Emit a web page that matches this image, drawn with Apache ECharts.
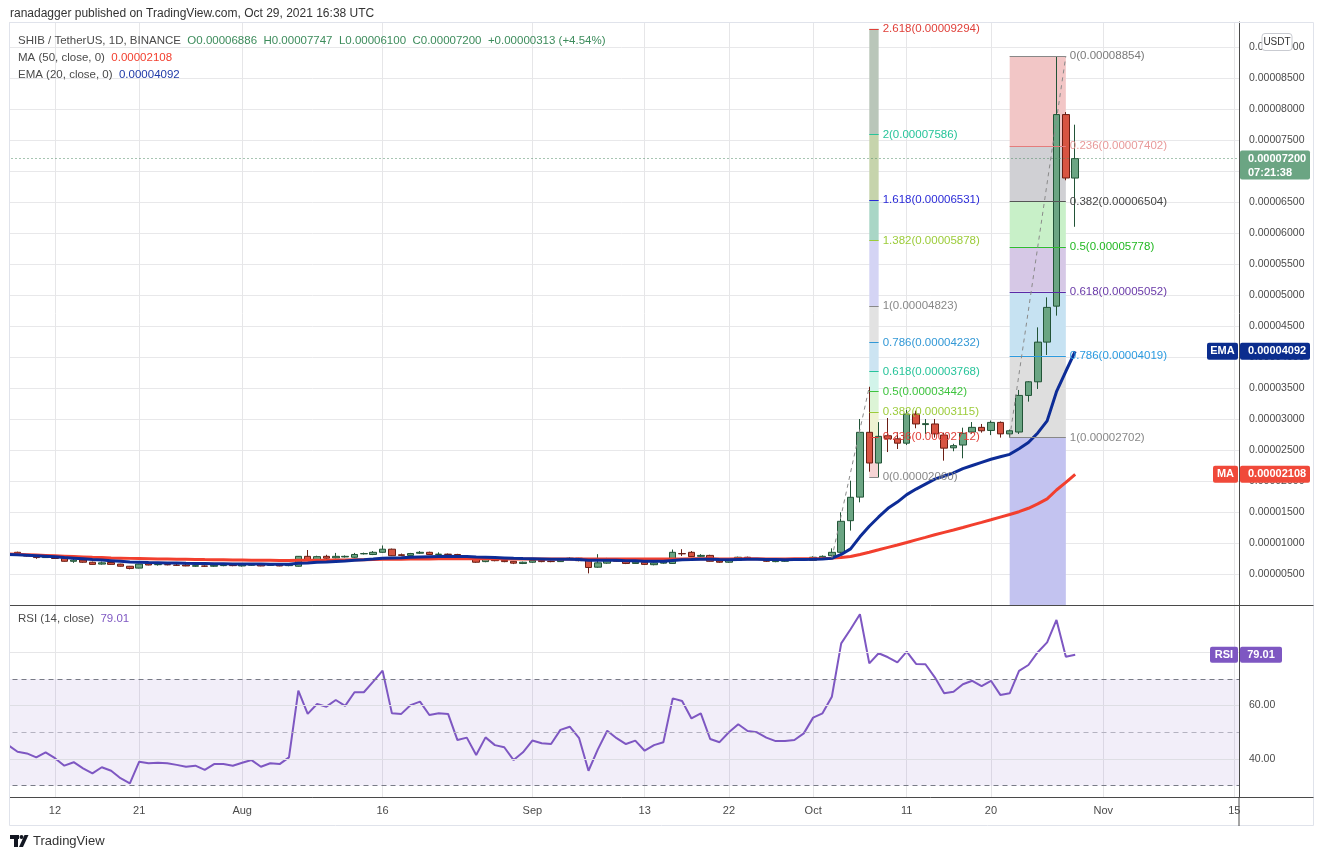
<!DOCTYPE html>
<html>
<head>
<meta charset="utf-8">
<title>SHIB / TetherUS 1D</title>
<script src="https://cdn.jsdelivr.net/npm/echarts@6/dist/echarts.min.js"></script>
<style>
html, body { margin: 0; padding: 0; background: #fff; }
#main { width: 1325px; height: 859px; }
</style>
</head>
<body>
<div id="main"></div>
<script>
var chart = echarts.init(document.getElementById('main'));

// prices are kept in units of 0.00000001 USDT
var PRICE_UNIT = 1e-8;
var FONT = 'Liberation Sans, Arial, sans-serif';

// one category per day: 2021-07-07 .. 2021-11-15
var dates = [];
(function () {
    var t = Date.UTC(2021, 6, 7);
    for (var i = 0; i < 132; i++) {
        dates.push(new Date(t + i * 86400000).toISOString().slice(0, 10));
    }
})();

var xTickLabels = {
    '2021-07-12': '12', '2021-07-21': '21', '2021-08-01': 'Aug', '2021-08-16': '16',
    '2021-09-01': 'Sep', '2021-09-13': '13', '2021-09-22': '22', '2021-10-01': 'Oct',
    '2021-10-11': '11', '2021-10-20': '20', '2021-11-01': 'Nov', '2021-11-15': '15'
};

// daily candles 2021-07-08 .. 2021-10-29
var opens = [
    850, 810, 795, 765, 790, 755, 705, 725, 690, 660,
    685, 660, 625, 595, 665, 650, 652, 645, 645, 625,
    630, 625, 635, 640, 630, 640, 655, 640, 645, 635,
    625, 785, 725, 785, 760, 775, 770, 825, 815, 850,
    900, 810, 800, 835, 850, 815, 820, 815, 755, 755,
    700, 755, 720, 705, 670, 690, 720, 705, 700, 735,
    755, 725, 610, 675, 740, 705, 670, 690, 650, 675,
    670, 830, 850, 785, 800, 710, 690, 720, 770, 745,
    740, 700, 705, 720, 725, 720, 750, 795, 850, 1360,
    1740, 2785, 2290, 2730, 2680, 2610, 3080, 2910, 2920, 2740,
    2535, 2580, 2790, 2865, 2815, 2945, 2760, 2790, 3380, 3600,
    4240, 4820, 7910, 6886
];
var closes = [
    802, 790, 765, 790, 750, 705, 725, 690, 655, 680,
    655, 625, 590, 660, 645, 655, 648, 640, 630, 635,
    625, 640, 640, 635, 645, 655, 630, 645, 630, 650,
    785, 720, 780, 755, 785, 785, 815, 830, 850, 900,
    795, 800, 830, 850, 815, 820, 815, 755, 760, 690,
    750, 715, 700, 675, 690, 720, 700, 700, 735, 755,
    715, 605, 680, 740, 705, 670, 690, 655, 680, 695,
    850, 825, 780, 800, 705, 690, 720, 770, 745, 735,
    705, 720, 720, 740, 740, 770, 785, 850, 1350, 1737,
    2785, 2290, 2720, 2680, 2610, 3080, 2920, 2925, 2760, 2530,
    2570, 2770, 2865, 2810, 2945, 2760, 2810, 3380, 3600, 4240,
    4800, 7910, 6887, 7200
];
var lows = [
    790, 780, 745, 760, 745, 700, 680, 680, 650, 650,
    650, 620, 575, 590, 640, 635, 640, 630, 625, 615,
    615, 615, 625, 625, 620, 630, 625, 630, 625, 625,
    620, 710, 715, 745, 750, 765, 760, 815, 805, 840,
    790, 790, 795, 825, 810, 790, 805, 745, 745, 680,
    690, 705, 690, 660, 660, 680, 690, 690, 695, 730,
    705, 510, 600, 665, 695, 660, 665, 645, 640, 665,
    665, 790, 775, 775, 700, 680, 680, 715, 735, 725,
    695, 690, 695, 710, 715, 715, 740, 785, 835, 1200,
    1656, 2150, 2060, 2467, 2516, 2580, 2850, 2758, 2700, 2328,
    2480, 2366, 2760, 2780, 2740, 2700, 2702, 2758, 3280, 3484,
    4032, 4667, 6850, 6100
];
var highs = [
    860, 815, 800, 800, 795, 760, 760, 735, 700, 700,
    695, 665, 630, 665, 670, 670, 660, 665, 665, 640,
    640, 645, 650, 650, 650, 665, 665, 650, 650, 655,
    790, 887, 795, 810, 840, 800, 840, 845, 870, 960,
    910, 830, 840, 870, 860, 850, 830, 825, 770, 765,
    760, 765, 730, 710, 700, 730, 730, 715, 745, 770,
    760, 735, 820, 760, 750, 710, 700, 700, 690, 705,
    895, 900, 870, 820, 810, 720, 730, 780, 780, 750,
    750, 730, 730, 750, 750, 785, 800, 914, 1495, 2005,
    3000, 3520, 2950, 3016, 2785, 3150, 3134, 3000, 3000, 2780,
    2600, 2860, 2951, 2920, 2975, 2960, 2830, 3468, 3610, 4478,
    4962, 8854, 7950, 7747
];

// indicators 2021-07-07 .. 2021-10-29
var ma50 = [
    822,
    818, 812, 806, 800, 794, 788, 782, 776, 770, 765,
    760, 756, 752, 749, 746, 743, 741, 739, 737, 735,
    732, 730, 728, 726, 724, 722, 721, 720, 719, 718,
    720, 721, 722, 723, 725, 727, 729, 731, 733, 736,
    737, 738, 740, 742, 743, 744, 745, 745, 745, 744,
    744, 744, 743, 743, 742, 742, 742, 742, 743, 743,
    743, 741, 741, 742, 742, 741, 741, 740, 740, 740,
    742, 743, 744, 745, 744, 743, 743, 744, 744, 744,
    743, 743, 743, 744, 745, 747, 750, 756, 766, 782,
    815, 852, 890, 930, 968, 1008, 1050, 1090, 1132, 1172,
    1210, 1250, 1292, 1333, 1375, 1418, 1460, 1505, 1560, 1630,
    1712, 1855, 1978, 2108
];
var ema20 = [
    816,
    810, 803, 795, 787, 778, 765, 755, 745, 733, 724,
    714, 704, 694, 690, 685, 682, 679, 676, 673, 671,
    669, 667, 665, 663, 662, 661, 660, 659, 658, 658,
    672, 678, 688, 695, 703, 711, 721, 731, 742, 755,
    759, 763, 769, 775, 779, 782, 785, 783, 781, 773,
    771, 766, 760, 753, 748, 745, 741, 737, 737, 738,
    735, 723, 720, 722, 720, 715, 713, 707, 705, 704,
    718, 728, 733, 739, 736, 732, 731, 735, 736, 736,
    733, 732, 731, 732, 733, 737, 742, 752, 815, 905,
    1100, 1270, 1420, 1560, 1660, 1780, 1870, 1950, 2030, 2080,
    2130, 2200, 2250, 2300, 2350, 2390, 2430, 2520, 2620, 2775,
    2970, 3440, 3770, 4092
];
var rsi14 = [
    45.2,
    42.7, 42.1, 40.6, 42.5, 40.3, 37.5, 38.8, 36.5, 34.6, 36.9,
    35.6, 32.8, 30.9, 39.0, 38.4, 38.6, 38.4, 37.8, 37.1, 37.5,
    35.9, 38.1, 38.1, 37.5, 38.6, 39.6, 37.1, 38.4, 38.1, 40.6,
    65.6, 56.9, 60.6, 59.6, 62.1, 59.9, 65.0, 65.0, 69.0, 73.1,
    57.1, 56.9, 60.2, 61.5, 56.5, 57.1, 56.9, 47.1, 48.0, 41.5,
    48.1, 45.2, 44.4, 39.6, 42.5, 46.9, 45.9, 45.6, 50.9, 52.1,
    47.8, 35.6, 43.6, 50.6, 47.8, 45.6, 46.9, 43.1, 45.2, 46.3,
    62.7, 61.7, 55.2, 57.1, 47.5, 46.3, 50.0, 53.0, 50.5, 50.0,
    48.0, 46.7, 46.7, 47.1, 49.6, 55.5, 57.1, 63.3, 83.3, 88.6,
    94.2, 75.8, 79.6, 78.1, 76.2, 80.2, 75.6, 75.5, 70.6, 64.6,
    65.2, 68.0, 69.3, 67.3, 69.3, 64.0, 64.6, 73.0, 75.2, 80.0,
    83.7, 92.1, 78.3, 79.01
];

// fibonacci retracement drawn on the last leg
var retraceRatios = [0, 0.236, 0.382, 0.5, 0.618, 0.786, 1];
var retracePrices = [8854, 7402, 6504, 5778, 5052, 4019, 2702];
var retraceSpan = ['2021-10-22', '2021-10-28'];
var retraceTrend = [['2021-10-22', 2702], ['2021-10-28', 8854]];

// trend based fibonacci extension
var extRatios = [0, 0.236, 0.382, 0.5, 0.618, 0.786, 1, 1.382, 1.618, 2, 2.618];
var extPrices = [2060, 2712, 3115, 3442, 3768, 4232, 4823, 5878, 6531, 7586, 9294];
var extSpan = ['2021-10-07', '2021-10-08'];
var extTrend = [['2021-10-03', 757], ['2021-10-07', 3520]];

// styles
var retraceLineColors = ['#888888', '#e57c7c', '#555555', '#2dbf2d', '#5b2aa6', '#2b9be0', '#888888'];
var retraceTextColors = ['#7a7a7a', '#e89a9a', '#454545', '#22b822', '#6a3aa8', '#2b9be0', '#888888'];
var retraceBandColors = ['#f2c6c6', '#d0d0d4', '#c8f0c8', '#d6c8e6', '#c6e2f2', '#dedede'];
var retraceBelowColor = '#c3c3f0';
var extLineColors = ['#888888', '#e0403a', '#9ccc3a', '#3ec43e', '#27c49a', '#3298d6', '#888888', '#9ccc3a', '#2a2ad8', '#27c49a', '#e0403a'];
var extBandColors = ['#f6d4d4', '#eef3d2', '#dcf4d6', '#d2f4ea', '#cce4f2', '#e2e2e2', '#d4d4f4', '#a9d6c6', '#c6d4ac', '#b9c6b9'];

var UP = '#6ba583', UP_BORDER = '#225437';
var DOWN = '#d75442', DOWN_BORDER = '#6b1e14';
var MA_COLOR = '#f23f2e', EMA_COLOR = '#0d2c96', RSI_COLOR = '#7e57c2';

function fmtPrice(v) { return (v * PRICE_UNIT).toFixed(8); }

var candles = ['-'];
for (var i = 0; i < opens.length; i++) {
    candles.push([opens[i], closes[i], lows[i], highs[i]]);
}

var n = opens.length - 1;
var lastClose = closes[n];
var change = lastClose - closes[n - 1];

function showTick(idx, value) { return xTickLabels[value] !== undefined; }

// retracement bands + levels
var retraceAreas = [];
for (var k = 0; k < retracePrices.length - 1; k++) {
    retraceAreas.push([
        { xAxis: retraceSpan[0], yAxis: retracePrices[k], itemStyle: { color: retraceBandColors[k] } },
        { xAxis: retraceSpan[1], yAxis: retracePrices[k + 1] }
    ]);
}
retraceAreas.push([
    { xAxis: retraceSpan[0], yAxis: retracePrices[retracePrices.length - 1], itemStyle: { color: retraceBelowColor } },
    { xAxis: retraceSpan[1], yAxis: 0 }
]);
var retraceLines = retracePrices.map(function (p, k) {
    return [
        {
            coord: [retraceSpan[0], p],
            lineStyle: { color: retraceLineColors[k], width: 1, type: 'solid' },
            label: { color: retraceTextColors[k], formatter: retraceRatios[k] + '(' + fmtPrice(p) + ')' }
        },
        { coord: [retraceSpan[1], p] }
    ];
});
retraceLines.push([
    { coord: retraceTrend[0], lineStyle: { color: '#8a8a8a', width: 1, type: [4, 4] }, label: { show: false } },
    { coord: retraceTrend[1] }
]);

// extension bands + levels
var extAreas = [];
for (var k = 0; k < extPrices.length - 1; k++) {
    extAreas.push([
        { xAxis: extSpan[0], yAxis: extPrices[k], itemStyle: { color: extBandColors[k] } },
        { xAxis: extSpan[1], yAxis: extPrices[k + 1] }
    ]);
}
var extLines = extPrices.map(function (p, k) {
    return [
        {
            coord: [extSpan[0], p],
            lineStyle: { color: extLineColors[k], width: 1, type: 'solid' },
            label: { color: extLineColors[k], formatter: extRatios[k] + '(' + fmtPrice(p) + ')' }
        },
        { coord: [extSpan[1], p] }
    ];
});
extLines.push([
    { coord: extTrend[0], lineStyle: { color: '#8a8a8a', width: 1, type: [4, 4] }, label: { show: false } },
    { coord: extTrend[1] }
]);

var markLabel = { show: true, position: 'end', distance: 4, fontSize: 11.5, fontFamily: FONT };

function legend(text, top) {
    return {
        text: text, left: 18, top: top, padding: 0,
        textStyle: {
            fontSize: 11.5, fontWeight: 'normal', fontFamily: FONT,
            rich: {
                n: { color: '#4a4a4a', fontSize: 11.5, fontFamily: FONT },
                v: { color: '#3d8c5c', fontSize: 11.5, fontFamily: FONT },
                ma: { color: MA_COLOR, fontSize: 11.5, fontFamily: FONT },
                ema: { color: '#1f3aa8', fontSize: 11.5, fontFamily: FONT },
                rsi: { color: RSI_COLOR, fontSize: 11.5, fontFamily: FONT }
            }
        }
    };
}

var option = {
    animation: false,
    backgroundColor: '#ffffff',
    title: [
        {
            text: 'ranadagger published on TradingView.com, Oct 29, 2021 16:38 UTC',
            left: 10, top: 8, padding: 0,
            textStyle: { fontSize: 12, fontWeight: 'normal', color: '#333', fontFamily: FONT }
        },
        legend('{n|SHIB / TetherUS, 1D, BINANCE}  {v|O' + fmtPrice(opens[n]) + '}  {v|H' + fmtPrice(highs[n]) +
            '}  {v|L' + fmtPrice(lows[n]) + '}  {v|C' + fmtPrice(lastClose) + '}  {v|+' + fmtPrice(change) +
            ' (+' + (change / closes[n - 1] * 100).toFixed(2) + '%)}', 35),
        legend('{n|MA (50, close, 0)}  {ma|' + fmtPrice(ma50[ma50.length - 1]) + '}', 52),
        legend('{n|EMA (20, close, 0)}  {ema|' + fmtPrice(ema20[ema20.length - 1]) + '}', 69),
        legend('{n|RSI (14, close)}  {rsi|' + rsi14[rsi14.length - 1].toFixed(2) + '}', 613)
    ],
    grid: [
        { left: 3.5, right: 86, top: 22, height: 583 },
        { left: 3.5, right: 86, top: 605, height: 192 }
    ],
    xAxis: [
        {
            type: 'category', gridIndex: 0, data: dates, boundaryGap: true,
            axisLine: { show: true, lineStyle: { color: '#4a4a4a', width: 1 } },
            axisTick: { show: false },
            axisLabel: { show: false },
            splitLine: { show: true, interval: showTick, alignWithLabel: true, lineStyle: { color: '#e6e6e8' } }
        },
        {
            type: 'category', gridIndex: 1, data: dates, boundaryGap: true,
            axisLine: { show: true, lineStyle: { color: '#4a4a4a', width: 1 } },
            axisTick: { show: false, alignWithLabel: true },
            axisLabel: {
                show: true, interval: showTick, margin: 8,
                color: '#4a4a4a', fontSize: 11, fontFamily: FONT,
                formatter: function (v) { return xTickLabels[v]; }
            },
            splitLine: { show: true, interval: showTick, alignWithLabel: true, lineStyle: { color: '#e6e6e8' } }
        }
    ],
    yAxis: [
        {
            type: 'value', gridIndex: 0, position: 'right',
            min: 0, max: 9403, interval: 500,
            axisLine: { show: true, lineStyle: { color: '#4a4a4a' } },
            axisTick: { show: false },
            axisLabel: {
                margin: 10, color: '#4a4a4a', fontSize: 10.5, fontFamily: FONT,
                showMinLabel: false, showMaxLabel: false, formatter: fmtPrice
            },
            splitLine: { show: true, lineStyle: { color: '#e8e8ea' } }
        },
        {
            type: 'value', gridIndex: 1, position: 'right',
            min: 25.77, max: 97.68,
            axisLine: { show: true, lineStyle: { color: '#4a4a4a' } },
            axisTick: { show: false },
            axisLabel: {
                margin: 10, color: '#4a4a4a', fontSize: 10.5, fontFamily: FONT,
                customValues: [40, 60],
                formatter: function (v) { return v.toFixed(2); }
            },
            splitLine: { show: false }
        }
    ],
    series: [
        {
            name: 'fib retracement', type: 'line', xAxisIndex: 0, yAxisIndex: 0, data: [],
            silent: true,
            markArea: { silent: true, data: retraceAreas },
            markLine: { silent: true, symbol: ['none', 'none'], label: markLabel, data: retraceLines }
        },
        {
            name: 'fib extension', type: 'line', xAxisIndex: 0, yAxisIndex: 0, data: [],
            silent: true,
            markArea: { silent: true, data: extAreas },
            markLine: { silent: true, symbol: ['none', 'none'], label: markLabel, data: extLines }
        },
        {
            name: 'SHIBUSDT', type: 'candlestick', xAxisIndex: 0, yAxisIndex: 0,
            data: candles, barWidth: 7,
            itemStyle: { color: UP, color0: DOWN, borderColor: UP_BORDER, borderColor0: DOWN_BORDER, borderWidth: 1 },
            markLine: {
                silent: true, symbol: ['none', 'none'], label: { show: false },
                lineStyle: { color: '#4f8a64', type: [1, 3], width: 1 },
                data: [{ yAxis: lastClose }]
            }
        },
        {
            name: 'MA 50', type: 'line', xAxisIndex: 0, yAxisIndex: 0, data: ma50,
            symbol: 'none', lineStyle: { color: MA_COLOR, width: 3 }, z: 3
        },
        {
            name: 'EMA 20', type: 'line', xAxisIndex: 0, yAxisIndex: 0, data: ema20,
            symbol: 'none', lineStyle: { color: EMA_COLOR, width: 3 }, z: 3
        },
        {
            name: 'RSI 14', type: 'line', xAxisIndex: 1, yAxisIndex: 1, data: rsi14,
            symbol: 'none', lineStyle: { color: RSI_COLOR, width: 2 }, z: 4,
            markArea: {
                silent: true,
                itemStyle: { color: 'rgba(126, 87, 194, 0.1)' },
                data: [[{ yAxis: 70 }, { yAxis: 30 }]]
            },
            markLine: {
                silent: true, symbol: ['none', 'none'], label: { show: false },
                data: [
                    { yAxis: 40, lineStyle: { color: '#dedee4', type: 'solid', width: 1 } },
                    { yAxis: 60, lineStyle: { color: '#dedee4', type: 'solid', width: 1 } },
                    { yAxis: 80, lineStyle: { color: '#e6e6e8', type: 'solid', width: 1 } },
                    { yAxis: 70, lineStyle: { color: '#787b86', type: [5, 4], width: 1 } },
                    { yAxis: 50, lineStyle: { color: '#b4b2c0', type: [5, 4], width: 1 } },
                    { yAxis: 30, lineStyle: { color: '#787b86', type: [5, 4], width: 1 } }
                ]
            }
        }
    ]
};

chart.setOption(option);

// price scale tags, placed through the axes
var SCALE_X = 1240;
var tags = [];
function box(x, y, w, h, fill, text, textX, align) {
    tags.push({ type: 'rect', z: 100, shape: { x: x, y: y, width: w, height: h, r: 2 }, style: { fill: fill } });
    tags.push({
        type: 'text', z: 101, x: textX, y: y + h / 2,
        style: {
            text: text, fill: '#ffffff', font: 'bold 11px ' + FONT,
            align: align, verticalAlign: 'middle', textAlign: align, textVerticalAlign: 'middle'
        }
    });
}
var yLast = chart.convertToPixel({ yAxisIndex: 0 }, lastClose);
tags.push({ type: 'rect', z: 100, shape: { x: SCALE_X, y: yLast - 8, width: 70, height: 29, r: 2 }, style: { fill: UP } });
tags.push({
    type: 'text', z: 101, x: 1248, y: yLast - 6,
    style: { text: fmtPrice(lastClose) + '\n07:21:38', fill: '#fff', font: 'bold 11px ' + FONT, lineHeight: 13.5,
        align: 'left', verticalAlign: 'top', textAlign: 'left', textVerticalAlign: 'top' }
});

var yEma = chart.convertToPixel({ yAxisIndex: 0 }, ema20[ema20.length - 1]);
box(SCALE_X, yEma - 8.5, 70, 17, '#0b2d8e', fmtPrice(ema20[ema20.length - 1]), 1248, 'left');
box(1207, yEma - 8.5, 31, 17, '#0b2d8e', 'EMA', 1222.5, 'center');

var yMa = chart.convertToPixel({ yAxisIndex: 0 }, ma50[ma50.length - 1]);
box(SCALE_X, yMa - 8.5, 70, 17, '#f0493a', fmtPrice(ma50[ma50.length - 1]), 1248, 'left');
box(1213, yMa - 8.5, 25, 17, '#f0493a', 'MA', 1225.5, 'center');

var yRsi = chart.convertToPixel({ yAxisIndex: 1 }, rsi14[rsi14.length - 1]);
box(SCALE_X, yRsi - 8, 42, 16, RSI_COLOR, rsi14[rsi14.length - 1].toFixed(2), 1261, 'center');
box(1210, yRsi - 8, 28, 16, RSI_COLOR, 'RSI', 1224, 'center');

var frame = [
    // left mask and chart frame
    { type: 'rect', z: 90, shape: { x: 0, y: 20, width: 9, height: 810 }, style: { fill: '#ffffff' } },
    { type: 'rect', z: 91, shape: { x: 9.5, y: 22.5, width: 1304, height: 803 }, style: { fill: 'none', stroke: '#e0e3eb', lineWidth: 1 } },
    { type: 'line', z: 91, shape: { x1: 1239, y1: 797, x2: 1239, y2: 826 }, style: { stroke: '#4a4a4a', lineWidth: 1 } },
    { type: 'line', z: 91, shape: { x1: 1239, y1: 605.5, x2: 1313.5, y2: 605.5 }, style: { stroke: '#4a4a4a', lineWidth: 1 } },
    { type: 'line', z: 91, shape: { x1: 1239, y1: 797.5, x2: 1313.5, y2: 797.5 }, style: { stroke: '#4a4a4a', lineWidth: 1 } },
    // currency badge
    { type: 'rect', z: 102, shape: { x: 1262, y: 33.5, width: 30, height: 17, r: 3 }, style: { fill: '#fff', stroke: '#c9cbd1' } },
    { type: 'text', z: 103, x: 1277, y: 42, style: { text: 'USDT', fill: '#333', font: '10px ' + FONT,
        align: 'center', verticalAlign: 'middle', textAlign: 'center', textVerticalAlign: 'middle' } },
    // footer logo
    { type: 'rect', z: 5, shape: { x: 10, y: 835, width: 9, height: 4 }, style: { fill: '#131722' } },
    { type: 'rect', z: 5, shape: { x: 14, y: 835, width: 4, height: 12 }, style: { fill: '#131722' } },
    { type: 'circle', z: 5, shape: { cx: 21.5, cy: 837, r: 2 }, style: { fill: '#131722' } },
    { type: 'polygon', z: 5, shape: { points: [[19, 847], [24.5, 835], [28.5, 835], [23, 847]] }, style: { fill: '#131722' } },
    { type: 'text', z: 5, x: 33, y: 841, style: { text: 'TradingView', fill: '#333', font: '13px ' + FONT,
        align: 'left', verticalAlign: 'middle', textAlign: 'left', textVerticalAlign: 'middle' } }
];

chart.setOption({ graphic: frame.concat(tags) });
</script>
</body>
</html>
